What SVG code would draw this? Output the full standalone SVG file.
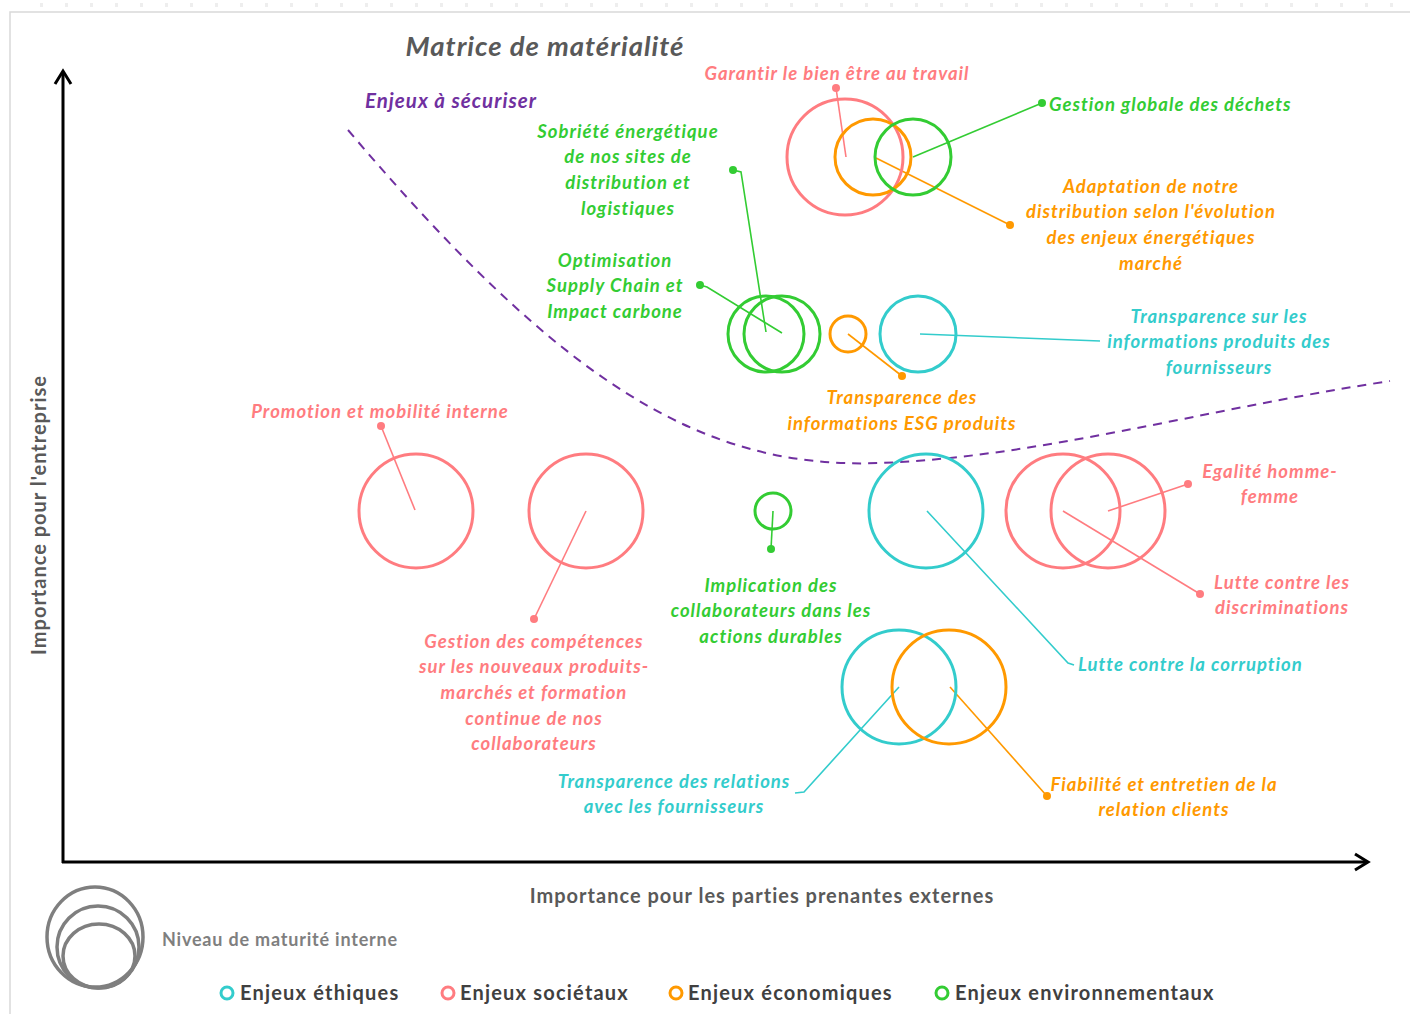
<svg xmlns="http://www.w3.org/2000/svg" width="1410" height="1014" viewBox="0 0 1410 1014">
<defs>
<style>
text{font-family:Lato,"Open Sans","Liberation Sans",sans-serif;font-weight:bold}
.lb{font-style:italic;font-size:18.5px;letter-spacing:1px;text-anchor:middle}
.st{text-anchor:start}
.teal{fill:#33CCCC}.pink{fill:#FF7C80}.orange{fill:#FF9900}.green{fill:#33CC33}
.c{fill:none;stroke-width:3}
.ct{stroke:#33CCCC}.cp{stroke:#FF7C80}.co{stroke:#FF9900}.cg{stroke:#33CC33}
.ln{fill:none;stroke-width:1.6}
.leg{font-size:20px;letter-spacing:1.2px;fill:#404040}
</style>
<marker id="ah" viewBox="0 0 20 20" refX="14" refY="10" markerWidth="20" markerHeight="20" markerUnits="userSpaceOnUse" orient="auto">
<path d="M2,2 L15,10 L2,18" fill="none" stroke="#000" stroke-width="3"/>
</marker>
</defs>
<rect width="1410" height="1014" fill="#fff"/>
<line x1="40" y1="5" x2="1410" y2="5" stroke="#eeeeee" stroke-width="4" stroke-dasharray="3 22"/>
<path d="M10,1014 V12 H1410" fill="none" stroke="#d9d9d9" stroke-width="1.5"/>

<g id="axes">
<line x1="63" y1="863" x2="63" y2="72" stroke="#000" stroke-width="3" marker-end="url(#ah)"/>
<line x1="62" y1="862" x2="1367" y2="862" stroke="#000" stroke-width="3" marker-end="url(#ah)"/>
<text x="46" y="515" transform="rotate(-90 46 515)" text-anchor="middle" font-size="20" letter-spacing="1" fill="#595959">Importance pour l'entreprise</text>
<text x="762" y="903" text-anchor="middle" font-size="20" letter-spacing="1" fill="#595959">Importance pour les parties prenantes externes</text>
</g>

<g id="title">
<text x="545" y="56" text-anchor="middle" font-size="27.5" letter-spacing="1" font-style="italic" fill="#595959">Matrice de matérialité</text>
</g>

<g id="zone">
<path d="M348,130 C560,380 700,470 880,463 C1040,457 1200,410 1390,381" fill="none" stroke="#7030A0" stroke-width="2" stroke-dasharray="9 7"/>
<text x="451" y="108" text-anchor="middle" font-size="20.5" letter-spacing="1" font-style="italic" fill="#7030A0">Enjeux à sécuriser</text>
</g>

<g id="connectors">
<line class="ln cp" x1="836" y1="88" x2="846" y2="157"/><circle cx="836" cy="88" r="4" class="pink"/>
<line class="ln cg" x1="913" y1="157" x2="1042" y2="103"/><circle cx="1042" cy="103" r="4" class="green"/>
<line class="ln co" x1="876" y1="158" x2="1010" y2="225"/><circle cx="1010" cy="225" r="4" class="orange"/>
<polyline class="ln cg" points="733,170 741,172 766,332"/><circle cx="733" cy="170" r="4" class="green"/>
<polyline class="ln cg" points="700,285 707,287 782,333"/><circle cx="700" cy="285" r="4" class="green"/>
<line class="ln co" x1="848" y1="334" x2="902" y2="376"/><circle cx="902" cy="376" r="4" class="orange"/>
<line class="ln ct" x1="920" y1="334" x2="1100" y2="341"/>
<line class="ln cp" x1="381" y1="426" x2="415" y2="510"/><circle cx="381" cy="426" r="4" class="pink"/>
<line class="ln cp" x1="586" y1="511" x2="534" y2="619"/><circle cx="534" cy="619" r="4" class="pink"/>
<line class="ln cg" x1="773" y1="511" x2="771" y2="549"/><circle cx="771" cy="549" r="4" class="green"/>
<polyline class="ln ct" points="927,511 1068,663 1074,665"/>
<line class="ln cp" x1="1108" y1="511" x2="1188" y2="484"/><circle cx="1188" cy="484" r="4" class="pink"/>
<line class="ln cp" x1="1063" y1="511" x2="1200" y2="594"/><circle cx="1200" cy="594" r="4" class="pink"/>
<polyline class="ln ct" points="899,687 804,792 795,793"/>
<line class="ln co" x1="950" y1="687" x2="1046" y2="795"/><circle cx="1047" cy="796" r="4" class="orange"/>
</g>

<g id="n-bienetre"><circle cx="845" cy="157" r="58" class="c cp"/><text class="lb pink" x="837" y="80">Garantir le bien être au travail</text></g>
<g id="n-adaptation"><circle cx="873" cy="157" r="38" class="c co"/>
<text class="lb orange" x="1151" y="193">Adaptation de notre</text><text class="lb orange" x="1151" y="218">distribution selon l'évolution</text><text class="lb orange" x="1151" y="244">des enjeux énergétiques</text><text class="lb orange" x="1151" y="270">marché</text></g>
<g id="n-dechets"><circle cx="913" cy="157" r="38" class="c cg"/><text class="lb st green" x="1049" y="111">Gestion globale des déchets</text></g>
<g id="n-sobriete"><circle cx="766" cy="334" r="38" class="c cg"/>
<text class="lb green" x="628" y="138">Sobriété énergétique</text><text class="lb green" x="628" y="163">de nos sites de</text><text class="lb green" x="628" y="189">distribution et</text><text class="lb green" x="628" y="215">logistiques</text></g>
<g id="n-supply"><circle cx="782" cy="334" r="38" class="c cg"/>
<text class="lb green" x="615" y="267">Optimisation</text><text class="lb green" x="615" y="292">Supply Chain et</text><text class="lb green" x="615" y="318">Impact carbone</text></g>
<g id="n-esg"><circle cx="848" cy="334" r="18" class="c co"/>
<text class="lb orange" x="902" y="404">Transparence des</text><text class="lb orange" x="902" y="430">informations ESG produits</text></g>
<g id="n-infofourn"><circle cx="918" cy="334" r="38" class="c ct"/>
<text class="lb teal" x="1219" y="323">Transparence sur les</text><text class="lb teal" x="1219" y="348">informations produits des</text><text class="lb teal" x="1219" y="374">fournisseurs</text></g>
<g id="n-promotion"><circle cx="416" cy="511" r="57" class="c cp"/><text class="lb pink" x="380" y="418">Promotion et mobilité interne</text></g>
<g id="n-competences"><circle cx="586" cy="511" r="57" class="c cp"/>
<text class="lb pink" x="534" y="648">Gestion des compétences</text><text class="lb pink" x="534" y="673">sur les nouveaux produits-</text><text class="lb pink" x="534" y="699">marchés et formation</text><text class="lb pink" x="534" y="725">continue de nos</text><text class="lb pink" x="534" y="750">collaborateurs</text></g>
<g id="n-implication"><circle cx="773" cy="511" r="18" class="c cg"/>
<text class="lb green" x="771" y="592">Implication des</text><text class="lb green" x="771" y="617">collaborateurs dans les</text><text class="lb green" x="771" y="643">actions durables</text></g>
<g id="n-corruption"><circle cx="926" cy="511" r="57" class="c ct"/><text class="lb st teal" x="1078" y="671">Lutte contre la corruption</text></g>
<g id="n-discrim"><circle cx="1063" cy="511" r="57" class="c cp"/>
<text class="lb pink" x="1282" y="589">Lutte contre les</text><text class="lb pink" x="1282" y="614">discriminations</text></g>
<g id="n-egalite"><circle cx="1108" cy="511" r="57" class="c cp"/>
<text class="lb pink" x="1270" y="478">Egalité homme-</text><text class="lb pink" x="1270" y="503">femme</text></g>
<g id="n-relfourn"><circle cx="899" cy="687" r="57" class="c ct"/>
<text class="lb teal" x="674" y="788">Transparence des relations</text><text class="lb teal" x="674" y="813">avec les fournisseurs</text></g>
<g id="n-clients"><circle cx="949" cy="687" r="57" class="c co"/>
<text class="lb orange" x="1164" y="791">Fiabilité et entretien de la</text><text class="lb orange" x="1164" y="816">relation clients</text></g>

<g id="legend">
<ellipse cx="95" cy="937" rx="48" ry="50" fill="none" stroke="#7F7F7F" stroke-width="3.5"/>
<ellipse cx="98" cy="947" rx="41" ry="41" fill="none" stroke="#7F7F7F" stroke-width="3.5"/>
<ellipse cx="99" cy="956" rx="36" ry="32" fill="none" stroke="#7F7F7F" stroke-width="3.5"/>
<text x="162" y="946" font-size="18" letter-spacing="0.8" fill="#7F7F7F">Niveau de maturité interne</text>
<circle cx="227" cy="993" r="6" class="c ct"/><text class="leg" x="240" y="1000">Enjeux éthiques</text>
<circle cx="448" cy="993" r="6" class="c cp"/><text class="leg" x="460" y="1000">Enjeux sociétaux</text>
<circle cx="676" cy="993" r="6" class="c co"/><text class="leg" x="688" y="1000">Enjeux économiques</text>
<circle cx="942" cy="993" r="6" class="c cg"/><text class="leg" x="955" y="1000">Enjeux environnementaux</text>
</g>
</svg>
